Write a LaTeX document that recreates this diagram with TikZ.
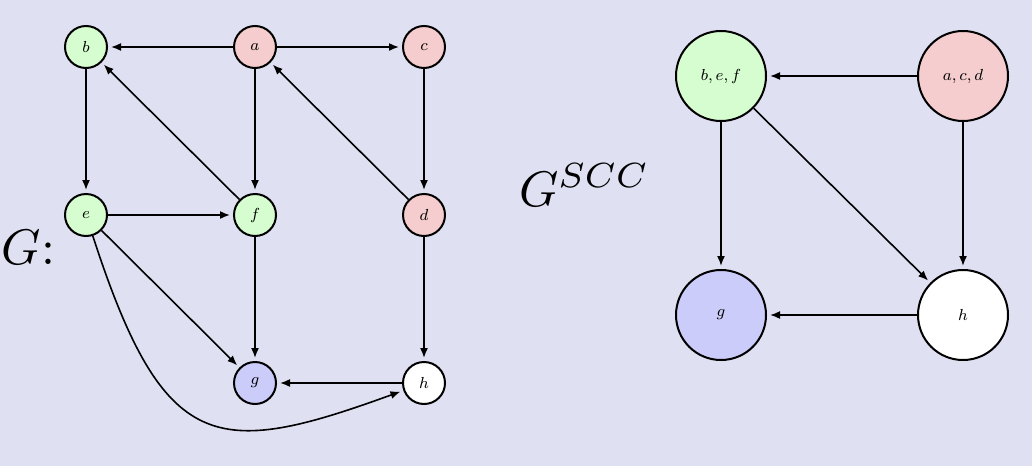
\documentclass[tikz,border=0pt]{standalone}
\usepackage{xcolor}
\usetikzlibrary{arrows.meta}
\definecolor{sccbg}{HTML}{DFE0F2}
\definecolor{sccgreen}{HTML}{D6FDD0}
\definecolor{sccred}{HTML}{F5CDCE}
\definecolor{sccblue}{HTML}{CCCCFA}
\tikzset{
  vtx/.style={circle,draw=black,line width=1pt,minimum size=21pt,inner sep=0pt,
              font=\fontsize{8}{9}\selectfont},
  comp/.style={circle,draw=black,line width=1pt,minimum size=45pt,inner sep=0pt,
               font=\fontsize{8.5}{10}\selectfont},
  edge/.style={-{Latex[length=5pt,width=4pt]},line width=0.8pt,shorten >=1.5pt},
  biglabel/.style={font=\normalsize,scale=2.5,inner sep=0pt,anchor=base west},
}
\begin{document}
\begin{tikzpicture}[x=0.5pt,y=-0.5pt]
\fill[sccbg] (0,0) rectangle (1032,466);
\useasboundingbox (0,0) rectangle (1032,466);

% graph G
\node[biglabel] (glabel) at (1,264) {$G$:};
\node[vtx,fill=sccgreen] (b) at (86,47) {$b$};
\node[vtx,fill=sccred] (a) at (255,47) {$a$};
\node[vtx,fill=sccred] (c) at (424,47) {$c$};
\node[vtx,fill=sccgreen] (e) at (86,215) {$e$};
\node[vtx,fill=sccgreen] (f) at (255,215) {$f$};
\node[vtx,fill=sccred] (d) at (424,215) {$d$};
\node[vtx,fill=sccblue] (g) at (255,383) {$g$};
\node[vtx,fill=white] (h) at (424,383) {$h$};

\draw[edge] (a) -- (b);
\draw[edge] (a) -- (c);
\draw[edge] (a) -- (f);
\draw[edge] (b) -- (e);
\draw[edge] (c) -- (d);
\draw[edge] (e) -- (f);
\draw[edge] (f) -- (b);
\draw[edge] (d) -- (a);
\draw[edge] (f) -- (g);
\draw[edge] (e) -- (g);
\draw[edge] (d) -- (h);
\draw[edge] (h) -- (g);
\draw[edge] (e) to[out=-72,in=200,out distance=115pt,in distance=100pt] (h);

% condensation
\node[biglabel] (scclabel) at (518,206) {$G^{SCC}$};
\node[comp,fill=sccgreen] (bef) at (721,76) {$b,e,f$};
\node[comp,fill=sccred] (acd) at (963,76) {$a,c,d$};
\node[comp,fill=sccblue] (gc) at (721,315) {$g$};
\node[comp,fill=white] (hc) at (963,315) {$h$};

\draw[edge] (acd) -- (bef);
\draw[edge] (bef) -- (gc);
\draw[edge] (bef) -- (hc);
\draw[edge] (acd) -- (hc);
\draw[edge] (hc) -- (gc);
\end{tikzpicture}
\end{document}
